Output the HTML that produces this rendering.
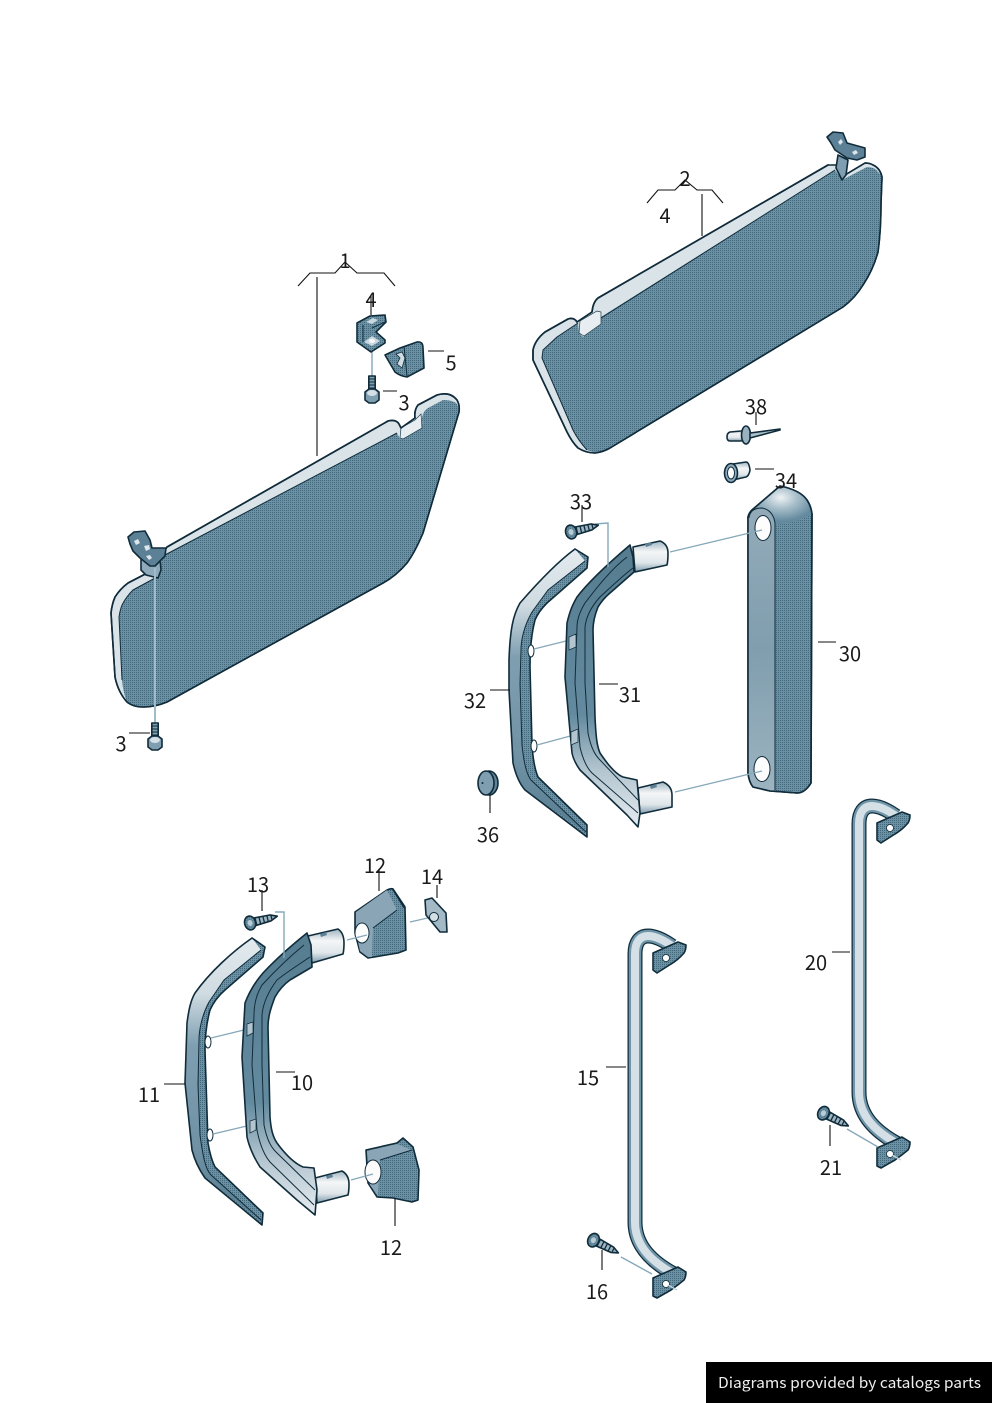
<!DOCTYPE html>
<html><head><meta charset="utf-8"><style>
html,body{margin:0;padding:0;background:#fff;width:992px;height:1403px;overflow:hidden}
svg{display:block}
text{font-family:"Noto Sans CJK JP","Liberation Sans",sans-serif;font-size:20px;fill:#1a1a1a;text-anchor:middle}
.o{stroke:#102c3b;stroke-width:1.6;stroke-linejoin:round;stroke-linecap:round}
.t{fill:none;stroke:#102c3b;stroke-width:1;stroke-linejoin:round}
.l{fill:none;stroke:#111;stroke-width:1.1}
.c{fill:none;stroke:#86a8b9;stroke-width:1.4}
</style></head><body>
<svg width="992" height="1403" viewBox="0 0 992 1403" xmlns="http://www.w3.org/2000/svg">
<defs>
<pattern id="d" width="2" height="2" patternUnits="userSpaceOnUse"><rect width="2" height="2" fill="#6a91a5"/><rect width="1" height="1" fill="#426879"/></pattern>
<linearGradient id="g32" x1="0" y1="0" x2="0" y2="1"><stop offset="0" stop-color="#e4ebef"/><stop offset=".2" stop-color="#cfdbe1"/><stop offset=".38" stop-color="#7f9fb1"/><stop offset=".75" stop-color="#7091a4"/><stop offset="1" stop-color="#557b8f"/></linearGradient>
<linearGradient id="g31" x1="0" y1="0" x2="0" y2="1"><stop offset="0" stop-color="#567c90"/><stop offset=".6" stop-color="#638a9e"/><stop offset=".8" stop-color="#b3c5cf"/><stop offset="1" stop-color="#e6ecf0"/></linearGradient>
<linearGradient id="cy" x1="0" y1="0" x2="0" y2="1"><stop offset="0" stop-color="#9fb5c1"/><stop offset=".35" stop-color="#f4f6f7"/><stop offset=".7" stop-color="#dfe6ea"/><stop offset="1" stop-color="#7f9cac"/></linearGradient>
<radialGradient id="dome" cx=".48" cy=".3" r=".6"><stop offset="0" stop-color="#eef2f4"/><stop offset=".45" stop-color="#a9bfcb"/><stop offset="1" stop-color="#638a9e"/></radialGradient>
<linearGradient id="f30" x1="0" y1="0" x2="0" y2="1"><stop offset="0" stop-color="#93abb9"/><stop offset=".5" stop-color="#809eae"/><stop offset="1" stop-color="#9cb3c0"/></linearGradient>
<g id="bar">
<path d="M672 946C662 939 654 936 648 936C640 936 635 942 635 954L635 1222C635 1246 652 1262 674 1274" fill="none" stroke="#102c3b" stroke-width="15"/>
<path d="M672 946C662 939 654 936 648 936C640 936 635 942 635 954L635 1222C635 1246 652 1262 674 1274" fill="none" stroke="#6f95a9" stroke-width="12.5"/>
<path d="M672 946C662 939 654 936 648 936C640 936 635 942 635 954L635 1222C635 1246 652 1262 674 1274" fill="none" stroke="#d5e0e6" stroke-width="8"/>
<path class="o" fill="url(#d)" d="M653 953L678 942L686 945Q686 950 684 953Q678 960 671 964L657 973L653 970Z"/>
<circle cx="666" cy="958" r="3.500" fill="#fff" stroke="#102c3b" stroke-width=".8"/>
<path class="o" fill="url(#d)" d="M653 1278L678 1267L686 1272Q686 1277 684 1280Q678 1285 671 1290L657 1298L653 1296Z"/>
<circle cx="666" cy="1284" r="3.500" fill="#fff" stroke="#102c3b" stroke-width=".8"/>
<path d="M668 1285L677 1290" stroke="#c5d5dd" stroke-width="1.4"/>
</g>
<g id="sc"><path class="o" fill="#9db5c2" d="M-1 -4L17 -3L24 0L17 3L-1 4Z"/><path d="M2 -4V4M6 -4V4M10 -3.500V3.500M14 -3V3M18 -2V2" stroke="#102c3b" stroke-width="1.3"/><ellipse cx="-4" cy="0" rx="5.500" ry="7" fill="url(#d)" class="o"/><ellipse cx="-4" cy="0" rx="2.500" ry="3" fill="#b8cad3"/></g>
<g id="bolt"><rect x="-3.200" y="-20" width="6.400" height="15" fill="#7f9eb0" class="o"/><path d="M-3 -17H3M-3 -14H3M-3 -11H3M-3 -8H3" stroke="#102c3b"/><path class="o" fill="#7f9eb0" d="M-7 -4L-3 -7H3L7 -4V4L3 7H-3L-7 4Z"/><ellipse cx="0" cy="-3" rx="5" ry="3" fill="#d5e0e6"/></g>
</defs>

<rect width="992" height="1403" fill="#fff"/>

<!-- left visor -->
<path class="o" fill="#d9e3e8" d="M167 547L388 421Q396 419 399 424L401 428L415 418Q414 410 418 405L437 395Q450 391 457 400Q460 405 459 412L423 533Q415 552 407 563Q396 576 383 583L167 702Q155 707 143 707Q133 707 127 702Q118 692 115 677L111 613Q112 604 115 597Q120 589 128 583L153 570Z"/>
<path fill="url(#d)" d="M163 556L397 433L400 439L402 438L420 429Q423 426 422 420Q422 412 428 408L443 400Q452 400 456 403Q459 406 459 412L423 533Q415 552 407 563Q396 576 383 583L167 702Q155 707 143 707Q133 707 127 702Q123 692 122 680L119 617Q120 610 122 605Q126 597 133 590L157 577Z"/>
<path class="t" d="M163 556L397 433M122 680L119 617Q120 610 122 605Q126 597 133 590L157 577"/>
<path d="M401 428L415 420L421 414L422 428L403 439L400 438Z" fill="#e7edf0" stroke="#1a3a49" stroke-width=".7"/>
<path class="o" fill="none" d="M167 547L388 421Q396 419 399 424L401 428L415 418Q414 410 418 405L437 395Q450 391 457 400Q460 405 459 412L423 533Q415 552 407 563Q396 576 383 583L167 702Q155 707 143 707Q133 707 127 702Q118 692 115 677L111 613Q112 604 115 597Q120 589 128 583L153 570"/>
<!-- left hinge -->
<path class="o" fill="#8eaabb" d="M141 558L141 570L146 575L158 578L161 570L160 558Z"/>
<path class="o" fill="#5c8196" d="M128 537L134 532L145 531L150 540L152 548L166 548L165 556L155 566L150 566L140 558L133 551L130 544Z"/>
<path fill="#dce5ea" d="M134 541l4 -2 2 4 -4 2zM144 546l5 -1 1 4 -4 2zM146 556l4 -1 2 3 -3 2z"/>
<path class="c" stroke="#a0bccb" style="stroke:#a0bccb;stroke-width:2" d="M155 568V724"/>
<use href="#bolt" x="155" y="743"/>

<!-- right visor -->
<path class="o" fill="#d9e3e8" d="M828 165L598 298Q593 302 592 312L577 322Q574 317 568 319L545 332Q535 340 533 350L533 360L567 432Q572 442 578 448Q586 453 595 453Q603 452 610 448L843 307Q855 298 863 285Q873 270 878 252Q881 230 881 203L882 177Q880 168 873 165Q870 163 865 163L845 175L841 180L836 165Z"/>
<path fill="url(#d)" d="M601 317L835 170L842 180L867 167Q875 167 878 172Q882 176 882 177L881 203Q881 230 878 252Q873 270 863 285Q855 298 843 307L610 448Q603 452 595 453L587 450Q578 440 573 430L542 358L543 350L557 337L578 323L579 333L583 337L601 324Z"/>
<path class="t" d="M601 318L835 170M587 450Q578 440 573 430L542 358L543 350L557 337L578 323"/>
<path d="M580 321L597 311L601 312L601 324L584 336L579 333Z" fill="#e7edf0" stroke="#1a3a49" stroke-width=".7"/>
<path class="o" fill="none" d="M828 165L598 298Q593 302 592 312L577 322Q574 317 568 319L545 332Q535 340 533 350L533 360L567 432Q572 442 578 448Q586 453 595 453Q603 452 610 448L843 307Q855 298 863 285Q873 270 878 252Q881 230 881 203L882 177Q880 168 873 165Q870 163 865 163L845 175"/>
<path class="o" fill="#7f9eb0" d="M838 155L836 168L842 180L846 175L848 160Z"/>
<path class="o" fill="#5c8196" d="M827 137L833 132L843 133L847 143L865 148L865 157L857 160L847 158L835 150L831 143Z"/>
<path fill="#dce5ea" d="M838 142l3 -3 2 3 -3 3zM852 152l4 -2 2 3 -4 2z"/>

<!-- small parts near left visor -->
<path class="c" d="M372 350V379"/>
<path class="o" fill="url(#d)" d="M357 323L370 316L385 315L386 322L376 332L385 340L385 343L371 352L357 342Z"/>
<path fill="#c9d7de" d="M366 322l7 -4 5 2 -6 4zM364 342l8 -6 8 5 -8 5z"/>
<ellipse cx="372" cy="341" rx="3" ry="2" fill="#f5f7f8"/>
<path class="t" d="M363 325V342M372 328L385 322"/>
<path class="o" fill="url(#d)" d="M385 355L400 348L417 342Q423 341 423 348L424 368L407 377Q400 376 395 372Z"/>
<path class="t" d="M404 346L407 376"/>
<path fill="#d2dde3" stroke="#102c3b" stroke-width=".8" d="M396 354L402 352L405 358L402 368L397 364L400 358Z"/>
<use href="#bolt" x="372" y="396"/>

<!-- part 36 / 34 / 38 -->
<ellipse cx="489" cy="783" rx="9" ry="12" fill="#5f8498" class="o"/>
<ellipse cx="486" cy="783" rx="8" ry="12" fill="#7f9eb0" class="o"/>
<circle cx="482.500" cy="783" r="1" fill="#102c3b"/>
<path class="o" fill="url(#cy)" d="M730 432L741 431L746 430V440L741 441H730Q727 441 727 437Q727 433 730 432Z"/>
<ellipse cx="746" cy="435" rx="4.500" ry="9" fill="#9ab2bf" class="o"/>
<path class="o" fill="#aac0cb" d="M750 433L780 429L780 430L750 438Z"/>
<path class="o" fill="url(#cy)" d="M733 464L746 462Q749 462 750 470Q749 476 746 477L733 480Z"/>
<ellipse cx="731" cy="473" rx="6.500" ry="9.500" fill="#8caabb" class="o"/>
<ellipse cx="731" cy="473" rx="3.500" ry="6" fill="#fff" stroke="#102c3b"/>

<!-- part 30 -->
<path class="o" fill="url(#d)" d="M752 510L780 486Q800 490 807 500Q811 506 812 514L811 783Q805 793 797 793L770 791L753 787Q749 782 748 773L748 517Q749 513 752 510Z"/>
<path fill="url(#dome)" d="M752 510L780 486Q800 490 807 500Q811 506 812 514Q800 522 775 525L762 508Z"/>
<path fill="url(#f30)" d="M748 518Q750 508 762 508Q773 510 775 523V790L770 791L753 787Q749 782 748 773Z"/>
<path class="t" d="M749 518Q750 508 762 508Q773 510 775 523V790"/>
<path class="o" fill="none" d="M752 510L780 486Q800 490 807 500Q811 506 812 514L811 783Q805 793 797 793L770 791L753 787Q749 782 748 773L748 517Q749 513 752 510Z"/>
<ellipse cx="763" cy="528" rx="8" ry="12.500" fill="#fdfdfd" stroke="#102c3b" stroke-width="1"/>
<ellipse cx="762" cy="769" rx="8" ry="12.500" fill="#fdfdfd" stroke="#102c3b" stroke-width="1"/>

<!-- part 32 -->
<path fill="url(#d)" d="M575 549L588 557L587 568L547 603C540 610 537 615 535 620C531 635 530 650 530 667L532 745C533 760 535 770 538 777L587 825L587 837L525 790C518 782 515 772 513 763L509 690L509 660C510 630 513 615 520 603C540 580 560 560 575 549Z"/>
<path fill="url(#g32)" d="M575 549L585 561L548 590L532 612C524 626 521 640 521 650L520 684L522 745C524 765 527 775 531 780L586 832L525 790C518 782 515 772 513 763L509 690L509 660C510 630 513 615 520 603C540 580 560 560 575 549Z"/>
<path class="t" d="M585 561L548 590L532 612C524 626 521 640 521 650L520 684L522 745C524 765 527 775 531 780L586 832"/>
<path class="o" fill="none" d="M575 549L588 557L587 568L547 603C540 610 537 615 535 620C531 635 530 650 530 667L532 745C533 760 535 770 538 777L587 825L587 837L525 790C518 782 515 772 513 763L509 690L509 660C510 630 513 615 520 603C540 580 560 560 575 549Z"/>
<ellipse cx="531" cy="651" rx="3" ry="6" fill="#fff" stroke="#102c3b"/>
<ellipse cx="534" cy="746" rx="3" ry="6" fill="#fff" stroke="#102c3b"/>
<path class="c" d="M534 649L570 640M537 745L574 735"/>

<!-- part 31 -->
<path class="o" fill="url(#cy)" d="M633 547L660 541Q668 544 668 553Q668 561 667 565L635 572Z"/>
<path class="o" fill="url(#cy)" d="M638 788L663 782Q672 786 672 795Q672 802 672 807L640 814Z"/>
<path fill="#5c8196" d="M645 544l6 -2 1 3 -6 2zM650 786l6 -2 1 3 -6 2z"/>
<path class="o" fill="url(#g31)" d="M630 545L633 557L634 572L610 593C604 598 601 602 598 607C594 617 593 624 593 630L595 717C596 738 597 746 600 753C610 768 618 775 623 777L637 780L640 813L638 827L627 815L580 770C575 763 573 758 572 753L565 677L567 623C570 610 573 604 577 597C590 580 610 562 630 545Z"/>
<path class="t" d="M627 557C610 570 595 590 585 603C579 613 577 620 577 627L575 683L580 747C583 760 587 768 592 773L638 813M633 568C620 578 610 588 600 597C590 608 586 618 585 627L585 683L588 733C591 748 595 755 600 760L638 800"/>
<path d="M569 637l7 -3v13l-7 3z" fill="#b3c5cf" stroke="#102c3b" stroke-width=".7"/>
<path d="M571 732l7 -3v13l-7 3z" fill="#b3c5cf" stroke="#102c3b" stroke-width=".7"/>

<!-- connectors top group -->
<path class="c" d="M595 524L608 523V567"/>
<path class="c" d="M670 552L762 530M675 792L762 771"/>
<use href="#sc" x="575" y="531" transform="rotate(-14 575 531)"/>

<!-- lower left group: part 11 -->
<path fill="url(#d)" d="M252 938L265 947L263 957L225 990C217 997 213 1003 210 1010C206 1025 205 1037 205 1050L208 1143C210 1155 212 1161 215 1167L263 1213L262 1225L205 1178C198 1168 194 1158 192 1150L185 1083L187 1023C189 1008 191 1000 195 993C210 972 232 952 252 938Z"/>
<path fill="url(#g32)" d="M252 938L261 950L224 980L209 1002C202 1015 199 1030 199 1040L198 1085L200 1135C203 1158 206 1170 211 1175L261 1220L205 1178C198 1168 194 1158 192 1150L185 1083L187 1023C189 1008 191 1000 195 993C210 972 232 952 252 938Z"/>
<path class="t" d="M261 950L224 980L209 1002C202 1015 199 1030 199 1040L198 1085L200 1135C203 1158 206 1170 211 1175L261 1220"/>
<path class="o" fill="none" d="M252 938L265 947L263 957L225 990C217 997 213 1003 210 1010C206 1025 205 1037 205 1050L208 1143C210 1155 212 1161 215 1167L263 1213L262 1225L205 1178C198 1168 194 1158 192 1150L185 1083L187 1023C189 1008 191 1000 195 993C210 972 232 952 252 938Z"/>
<ellipse cx="208" cy="1042" rx="3" ry="6" fill="#fff" stroke="#102c3b"/>
<ellipse cx="210" cy="1135" rx="3" ry="6" fill="#fff" stroke="#102c3b"/>
<path class="c" d="M211 1038L248 1029M213 1134L251 1125"/>

<!-- part 10 -->
<path class="o" fill="url(#cy)" d="M308 936L338 929Q344 933 344 943Q344 950 343 954L312 963Z"/>
<path class="o" fill="url(#cy)" d="M315 1178L342 1171Q349 1175 349 1184Q349 1191 348 1195L317 1203Z"/>
<path fill="#5c8196" d="M320 934l6 -2 1 3 -6 2zM326 1176l6 -2 1 3 -6 2z"/>
<path class="o" fill="url(#g31)" d="M307 933L311 945L312 967L290 980C283 985 279 990 275 997C270 1010 268 1018 268 1027L270 1117C271 1130 273 1137 277 1143C288 1158 296 1164 303 1167L314 1168L317 1190L315 1215L297 1200L260 1167C253 1156 249 1146 247 1137L242 1057L245 1003C250 990 256 981 263 973C278 957 292 945 307 933Z"/>
<path class="t" d="M304 945C288 958 274 972 262 985C256 995 254 1005 254 1015L252 1065L257 1130C260 1146 265 1156 270 1162L314 1205M310 957C298 965 287 972 277 980C268 992 263 1003 262 1015L262 1065L264 1125C267 1140 271 1147 276 1152L315 1190"/>
<path d="M247 1024l6 -2v11l-6 3z" fill="#b3c5cf" stroke="#102c3b" stroke-width=".7"/>
<path d="M250 1121l6 -2v11l-6 3z" fill="#b3c5cf" stroke="#102c3b" stroke-width=".7"/>

<!-- parts 12 -->
<path class="o" fill="url(#d)" d="M355 912L387 890Q391 888 393 889L405 907L406 950L398 953L368 958L360 952L355 933Z"/>
<path fill="#8aa5b5" d="M356 912L387 890L397 910L373 928L372 957L368 957L360 951L356 933Z"/>
<path class="t" d="M373 928L397 910M393 890L404 908"/>
<ellipse cx="362" cy="933" rx="7" ry="10" fill="#fcfcfc" stroke="#102c3b"/>
<path class="o" fill="url(#d)" d="M366 1150L397 1143L403 1138L413 1147L419 1170L418 1200L412 1202L393 1198L377 1197L368 1183Z"/>
<path fill="#8aa5b5" d="M367 1151L397 1144L412 1150L380 1160L378 1196L370 1185Z"/>
<path class="t" d="M380 1160L412 1150"/>
<ellipse cx="373" cy="1172" rx="8" ry="12" fill="#fcfcfc" stroke="#102c3b"/>
<path class="c" d="M347 940L367 935M351 1180L373 1174M410 922L432 917"/>
<path class="c" d="M275 912L284 912V958"/>
<use href="#sc" x="254" y="922" transform="rotate(-14 254 922)"/>
<path class="o" fill="#a3b9c5" d="M425 900L432 898L446 913L447 932L440 932L426 915Z"/>
<circle cx="434" cy="917" r="4.500" fill="#d5e0e6" stroke="#102c3b"/>

<!-- bars -->
<use href="#bar"/>
<use href="#bar" x="224" y="-130"/>
<use href="#sc" x="597" y="1242" transform="rotate(27 597 1242)"/>
<use href="#sc" x="827" y="1115" transform="rotate(27 827 1115)"/>
<path class="c" d="M621 1257L652 1274M847 1129L878 1147"/>

<!-- leaders -->
<path class="l" d="M298 286L310 273H335L345 262L357 273H384L395 286M317 277V456"/>
<path class="l" d="M647 203L658 190H675L685 180L697 190H712L723 203M702 194V236"/>
<path class="l" d="M371 296V315M383 391H397M428 351H444M129 733H150M756 412V425M755 469H774M582 505V522M818 642H836M599 684H618M490 690H510M490 795V813M262 890V911M379 870V891M437 885V898M164 1084H185M276 1072H295M395 1198V1226M606 1067H626M832 952H850M830 1125V1146M602 1250V1270"/>

<!-- labels -->
<text x="345" y="268">1</text>
<text x="685" y="186">2</text>
<text x="665" y="223">4</text>
<text x="371" y="307">4</text>
<text x="451" y="370">5</text>
<text x="404" y="410">3</text>
<text x="121" y="751">3</text>
<text x="756" y="414">38</text>
<text x="786" y="488">34</text>
<text x="581" y="509">33</text>
<text x="850" y="661">30</text>
<text x="630" y="702">31</text>
<text x="475" y="708">32</text>
<text x="488" y="842">36</text>
<text x="258" y="892">13</text>
<text x="375" y="873">12</text>
<text x="432" y="884">14</text>
<text x="149" y="1102">11</text>
<text x="302" y="1090">10</text>
<text x="391" y="1255">12</text>
<text x="588" y="1085">15</text>
<text x="816" y="970">20</text>
<text x="831" y="1175">21</text>
<text x="597" y="1299">16</text>

<!-- footer -->
<rect x="706" y="1362" width="286" height="41" fill="#000"/>
<text x="718" y="1388" style="font-size:15px;fill:#eee;text-anchor:start" textLength="263" lengthAdjust="spacingAndGlyphs">Diagrams provided by catalogs parts</text>
</svg>
</body></html>
